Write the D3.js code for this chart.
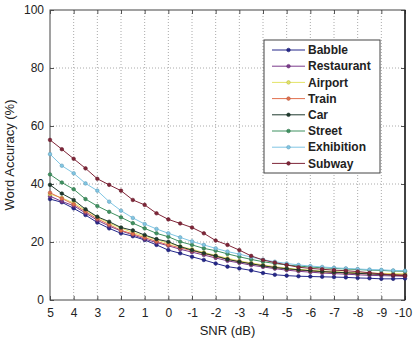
<!DOCTYPE html>
<html>
<head>
<meta charset="utf-8">
<script src="https://cdn.jsdelivr.net/npm/d3@7"></script>
<style>
  body { margin: 0; background: #fff; }
  text { font-family: "Liberation Sans", Arial, sans-serif; fill: #222; }
</style>
</head>
<body>
<div id="chart"></div>
<script>
// SNR values (dB), one per marker
var snr = [5, 4.5, 4, 3.5, 3, 2.5, 2, 1.5, 1, 0.5, 0, -0.5, -1, -1.5, -2, -2.5,
           -3, -3.5, -4, -4.5, -5, -5.5, -6, -6.5, -7, -7.5, -8, -8.5, -9, -9.5, -10];
var xTicks = [5, 4, 3, 2, 1, 0, -1, -2, -3, -4, -5, -6, -7, -8, -9, -10];
var yTicks = [0, 20, 40, 60, 80, 100];

var noiseNames = ["Babble", "Restaurant", "Airport", "Train", "Car", "Street", "Exhibition", "Subway"];

// word accuracy (%)
var babble     = [34.8,33.7,31.6,29.3,26.7,24.7,23.0,22.0,20.7,19.0,17.2,16.1,14.9,13.8,12.6,11.5,10.9,10.2,9.3,8.7,8.4,8.2,8.1,8.0,7.9,7.8,7.6,7.5,7.3,7.3,7.4];
var restaurant = [35.8,34.0,32.5,30.0,27.5,25.5,23.8,22.5,21.0,19.8,18.7,17.5,16.5,15.5,14.5,13.5,12.8,12.0,11.4,10.8,10.3,9.9,9.6,9.3,9.1,8.9,8.7,8.5,8.4,8.3,8.2];
var airport    = [36.5,35.2,33.5,31.0,28.5,26.5,24.8,23.3,22.0,20.8,19.6,18.5,17.5,16.4,15.4,14.4,13.5,12.8,12.1,11.5,11.0,10.6,10.3,10.0,9.8,9.6,9.4,9.3,9.2,9.1,9.0];
var train      = [37.0,35.0,33.0,30.5,28.0,26.0,24.0,22.8,21.5,20.2,19.0,18.0,17.0,16.0,15.0,14.0,13.2,12.5,11.8,11.2,10.7,10.3,10.0,9.7,9.5,9.3,9.1,9.0,8.9,8.8,8.7];
var car        = [39.7,36.7,34.5,31.3,28.7,27.0,25.0,24.0,22.4,21.0,20.1,18.4,17.2,16.1,15.2,14.0,13.2,12.5,11.8,11.2,10.8,10.4,10.1,9.8,9.6,9.4,9.2,9.0,8.8,8.6,8.5];
var street     = [43.3,40.5,38.2,34.8,32.4,30.4,28.5,26.5,24.7,23.0,21.8,20.1,19.0,17.8,17.0,15.9,14.9,14.0,13.2,12.6,12.1,11.7,11.4,11.1,10.9,10.7,10.5,10.3,10.2,10.0,9.9];
var exhibition = [50.3,46.3,43.7,40.2,37.7,33.9,30.8,28.3,26.2,24.5,23.0,21.6,20.2,19.0,17.8,16.7,15.8,14.8,13.9,13.2,12.6,12.1,11.7,11.4,11.1,10.9,10.7,10.5,10.4,10.2,10.1];
var subway     = [55.2,52.0,48.7,45.4,41.8,39.7,37.7,34.5,32.8,29.9,27.8,26.4,25.0,23.0,20.5,19.0,17.2,15.2,13.8,12.9,12.1,11.3,10.9,10.6,10.3,10.1,9.8,9.4,9.0,8.6,8.3];

var allSeries = [babble, restaurant, airport, train, car, street, exhibition, subway];
var colori = ["#24278a", "#7b3a8c", "#e4e466", "#e2704e", "#1f3a2e", "#3f9160", "#80c6e4", "#7f2538"];

var W = 414, H = 341;
var margin = {top: 10, right: 9, bottom: 41, left: 50};
var w = W - margin.left - margin.right;
var h = H - margin.top - margin.bottom;

var svg = d3.select("#chart").append("svg")
  .attr("width", W).attr("height", H)
  .append("g")
  .attr("transform", "translate(" + margin.left + "," + margin.top + ")");

var x = d3.scaleLinear().domain([5, -10]).range([0, w]);
var y = d3.scaleLinear().domain([0, 100]).range([h, 0]);

// griglia tratteggiata
svg.selectAll(".vgrid").data(xTicks.slice(1, -1)).enter().append("line")
  .attr("x1", function(d){ return x(d); }).attr("x2", function(d){ return x(d); })
  .attr("y1", 0).attr("y2", h)
  .style("stroke", "#aaa").style("stroke-width", 1).style("stroke-dasharray", "1,2");
svg.selectAll(".hgrid").data(yTicks.slice(1, -1)).enter().append("line")
  .attr("x1", 0).attr("x2", w)
  .attr("y1", function(d){ return y(d); }).attr("y2", function(d){ return y(d); })
  .style("stroke", "#aaa").style("stroke-width", 1).style("stroke-dasharray", "1,2");

// assi (trattino normale come nel grafico originale)
var fmt = function(d){ return String(d); };
var xAxis = svg.append("g").attr("transform", "translate(0," + h + ")")
  .call(d3.axisBottom(x).tickValues(xTicks).tickSize(-4).tickPadding(8).tickFormat(fmt));
var xTop = svg.append("g")
  .call(d3.axisTop(x).tickValues(xTicks).tickSize(-4).tickFormat(""));
var yAxis = svg.append("g")
  .call(d3.axisLeft(y).tickValues(yTicks).tickSize(-4).tickPadding(6).tickFormat(fmt));
var yRight = svg.append("g").attr("transform", "translate(" + w + ",0)")
  .call(d3.axisRight(y).tickValues(yTicks).tickSize(-4).tickFormat(""));

[xAxis, xTop, yAxis, yRight].forEach(function(a){
  a.select(".domain").remove();
  a.selectAll("line").style("stroke", "#555");
  a.selectAll("text").style("font-size", "12px").style("font-family", "Liberation Sans, Arial, sans-serif").attr("fill", "#222");
});
// l'ultimo "-10" un po' a sinistra per non uscire dal bordo
xAxis.selectAll(".tick text").filter(function(d){ return d === -10; }).attr("dx", "-2");

// box
svg.append("rect").attr("x", 0).attr("y", 0).attr("width", w).attr("height", h)
  .style("fill", "none").style("stroke", "#444").style("stroke-width", 1);
svg.append("line").attr("x1", w).attr("x2", w).attr("y1", 0).attr("y2", h)
  .style("stroke", "#222").style("stroke-width", 1.5);

// linee
var line = d3.line()
  .x(function(d, i){ return x(snr[i]); })
  .y(function(d){ return y(d); });

allSeries.forEach(function(serie, k){
  svg.append("path").datum(serie)
    .attr("d", line)
    .style("fill", "none").style("stroke", colori[k]).style("stroke-width", 1);
  svg.selectAll(".pt" + k).data(serie).enter().append("circle")
    .attr("cx", function(d, i){ return x(snr[i]); })
    .attr("cy", function(d){ return y(d); })
    .attr("r", 1.8)
    .style("fill", colori[k])
    .style("stroke", d3.color(colori[k]).darker(0.6)).style("stroke-width", 0.6);
});

// etichette assi
svg.append("text").attr("x", w / 2).attr("y", h + 35)
  .attr("text-anchor", "middle").style("font-size", "13px").text("SNR (dB)");
svg.append("text").attr("transform", "translate(" + (-36) + "," + (h / 2) + ") rotate(-90)")
  .attr("text-anchor", "middle").style("font-size", "13px").text("Word Accuracy (%)");

// legenda
var lx = 264 - margin.left, ly = 40 - margin.top;
var leg = svg.append("g").attr("transform", "translate(" + lx + "," + ly + ")");
leg.append("rect").attr("width", 116).attr("height", 133)
  .style("fill", "#fff").style("stroke", "#444").style("stroke-width", 1);
noiseNames.forEach(function(nome, k){
  var yy = 10 + k * 16.2;
  leg.append("line").attr("x1", 8).attr("x2", 41).attr("y1", yy).attr("y2", yy)
    .style("stroke", colori[k]).style("stroke-width", 1);
  leg.append("circle").attr("cx", 24.5).attr("cy", yy).attr("r", 1.8)
    .style("fill", colori[k]).style("stroke", d3.color(colori[k]).darker(0.6)).style("stroke-width", 0.6);
  leg.append("text").attr("x", 44).attr("y", yy).attr("dy", "0.35em")
    .style("font-size", "12px").style("font-weight", "bold").text(nome);
});
</script>
</body>
</html>
